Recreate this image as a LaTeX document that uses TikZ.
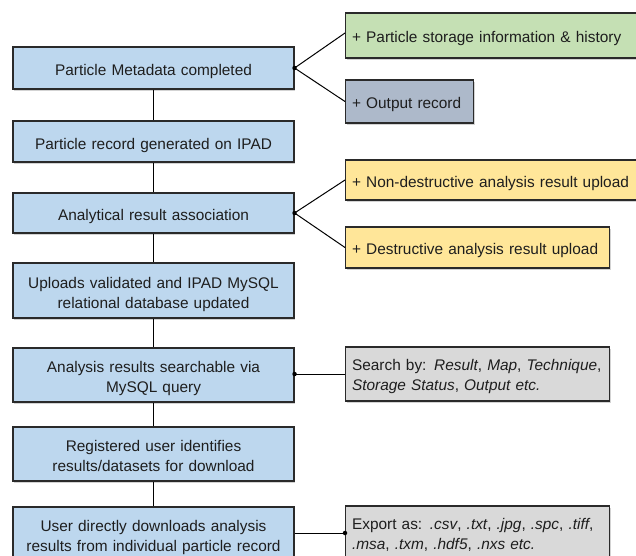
\documentclass[tikz,border=0pt]{standalone}
\usepackage{fontspec}
\setmainfont{Liberation Sans}
\usetikzlibrary{shadows}
\definecolor{bluebox}{HTML}{BDD7EE}
\definecolor{greenbox}{HTML}{C5E0B4}
\definecolor{slatebox}{HTML}{ADB9CA}
\definecolor{yellowbox}{HTML}{FFE699}
\definecolor{graybox}{HTML}{D9D9D9}
\definecolor{edge}{HTML}{2A2A2A}
\definecolor{ink}{HTML}{1E1E1E}
\tikzset{
  basebox/.style={draw=edge, line width=1.1pt, text=ink, font=\fontsize{15.4}{20}\selectfont,
    drop shadow={shadow xshift=1.2pt, shadow yshift=-1.5pt, opacity=0.35}},
  stepbox/.style={basebox, fill=bluebox, minimum width=281pt, text width=268pt, align=center, inner sep=0pt},
  oneline/.style={text height=15.5pt, text depth=0pt},
  twoline/.style={text height=10pt, text depth=15pt},
  sidebox/.style={basebox, anchor=west, align=left, inner xsep=6.5pt, inner ysep=0pt},
  sideone/.style={text height=14.5pt, text depth=0pt},
  sidetwo/.style={text height=10pt, text depth=17pt},
  joint/.style={circle, fill=black, inner sep=0pt, minimum size=4.5pt},
  link/.style={draw=black, line width=1pt}
}
\begin{document}
\begin{tikzpicture}[x=1pt, y=-1pt]
\useasboundingbox (0,0) rectangle (636,555);
\clip (0,0) rectangle (636,555);
% main column
\node[stepbox, oneline, minimum height=42pt] (b1) at (153.5,68) {Particle Metadata completed};
\node[stepbox, oneline, minimum height=41pt] (b2) at (153.5,141.5) {Particle record generated on IPAD};
\node[stepbox, oneline, minimum height=40pt] (b3) at (153.5,213) {Analytical result association};
\node[stepbox, twoline, minimum height=55pt] (b4) at (153.5,290.5) {Uploads validated and IPAD MySQL\\relational database updated};
\node[stepbox, twoline, minimum height=54pt] (b5) at (153.5,375) {Analysis results searchable via\\MySQL query};
\node[stepbox, twoline, minimum height=54pt] (b6) at (153.5,454) {Registered user identifies\\results/datasets for download};
\node[stepbox, twoline, minimum height=54pt] (b7) at (153.5,534) {\mbox{User directly downloads analysis}\\\mbox{results from individual particle record}};
% side boxes
\node[sidebox, sideone, fill=greenbox, text width=292pt, minimum height=45pt] (g1) at (345,35.5) {\mbox{+ Particle storage information \& history}};
\node[sidebox, sideone, fill=slatebox, text width=115pt, minimum height=43pt] (o1) at (345,101.5) {\mbox{+ Output record}};
\node[sidebox, sideone, fill=yellowbox, text width=292pt, minimum height=40pt] (y1) at (345,180) {\mbox{+ Non-destructive analysis result upload}};
\node[sidebox, sideone, fill=yellowbox, text width=251pt, minimum height=41pt] (y2) at (345,247.5) {\mbox{+ Destructive analysis result upload}};
\node[sidebox, sidetwo, fill=graybox, text width=251pt, minimum height=54pt] (s1) at (345,374) {\mbox{Search by: \textit{Result}, \textit{Map}, \textit{Technique},}\\\mbox{\textit{Storage Status}, \textit{Output etc.}}};
\node[sidebox, sidetwo, fill=graybox, text width=251pt, minimum height=54pt] (e1) at (345,533) {\mbox{Export as: \textit{.csv}, \textit{.txt}, \textit{.jpg}, \textit{.spc}, \textit{.tiff},}\\\mbox{\textit{.msa}, \textit{.txm}, \textit{.hdf5}, \textit{.nxs etc.}}};
% vertical connectors
\foreach \a/\b in {b1/b2,b2/b3,b3/b4,b4/b5,b5/b6,b6/b7}
  \draw[link] (\a.south) -- (\b.north);
% joints
\node[joint] (j1) at (b1.east) {};
\node[joint] (j3) at (b3.east) {};
\node[joint] (j5) at (b5.east |- s1.west) {};
\node[joint] (j7) at (e1.west) {};
\coordinate (g1in) at ([yshift=2.5pt]g1.west);
\draw[link] (j1.center) -- (g1in);
\draw[link] (j1.center) -- (o1.west);
\draw[link] (j3.center) -- (y1.west);
\draw[link] (j3.center) -- (y2.west);
\draw[link] (j5.center) -- (s1.west);
\draw[link] (b7.east |- e1.west) -- (j7.center);
\end{tikzpicture}
\end{document}
